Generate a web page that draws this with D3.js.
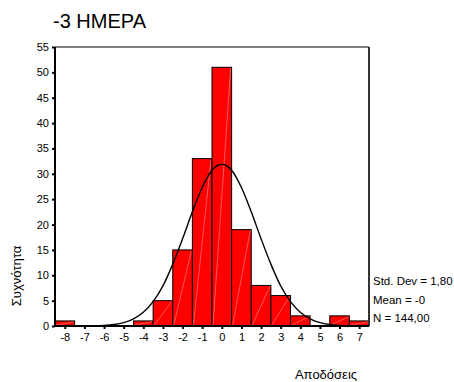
<!DOCTYPE html>
<html>
<head>
<meta charset="utf-8">
<script src="https://cdnjs.cloudflare.com/ajax/libs/d3/7.8.5/d3.min.js"></script>
<style>
  body { margin: 0; background: #fff; }
  text { font-family: "Liberation Sans", Arial, sans-serif; fill: #000; }
</style>
</head>
<body>
<svg id="chart" width="454" height="382"></svg>
<script>
// histogram bins (returns) and their frequencies
const bins = [-8, -7, -6, -5, -4, -3, -2, -1, 0, 1, 2, 3, 4, 5, 6, 7];
const counts = [1, 0, 0, 0, 1, 5, 15, 33, 51, 19, 8, 6, 2, 0, 2, 1];
const yTicks = [0, 5, 10, 15, 20, 25, 30, 35, 40, 45, 50, 55];

// normal curve
const curveX = [-8.5, -8, -7.5, -7, -6.5, -6, -5.5, -5, -4.5, -4, -3.5, -3, -2.5, -2, -1.5, -1, -0.5,
    0, 0.5, 1, 1.5, 2, 2.5, 3, 3.5, 4, 4.5, 5, 5.5, 6, 6.5, 7, 7.5];
const curveY = [0, 0, 0, 0.02, 0.05, 0.12, 0.3, 0.67, 1.4, 2.7, 4.8, 7.9, 12.2, 17.2, 22.5, 27.3, 30.7,
    31.9, 30.7, 27.3, 22.5, 17.2, 12.2, 7.9, 4.8, 2.7, 1.4, 0.67, 0.3, 0.12, 0.05, 0.02, 0];

const title = "-3 ΗΜΕΡΑ";
const xTitle = "Αποδόσεις";
const yTitle = "Συχνότητα";
const stats = ["Std. Dev = 1,80", "Mean = -0", "N = 144,00"];

const svg = d3.select("#chart");
const plotL = 55, plotR = 369, plotT = 47, plotB = 326;

const x = d3.scaleLinear().domain([-8.5, 7.5]).range([plotL, plotR]);
const y = d3.scaleLinear().domain([0, 55]).range([plotB, plotT]);

// bars
const bars = svg.append("g");
bins.forEach((b, i) => {
    if (counts[i] === 0) return;
    const x0 = x(b - 0.5), x1 = x(b + 0.5), y0 = y(counts[i]);
    bars.append("rect")
        .attr("x", x0).attr("y", y0)
        .attr("width", x1 - x0).attr("height", plotB - y0)
        .attr("fill", "#ff0000")
        .attr("stroke", "#000")
        .attr("stroke-width", 1);
    // faint diagonal seam inside each bar
    bars.append("line")
        .attr("x1", x0 + 1).attr("y1", plotB - 1)
        .attr("x2", x1 - 1).attr("y2", y0 + 1)
        .attr("stroke", "#ffb0b0")
        .attr("stroke-width", 0.5);
});

// normal curve
const pts = curveX.map((v, i) => [v, curveY[i]]);
const line = d3.line()
    .x(d => x(d[0]))
    .y(d => y(d[1]))
    .curve(d3.curveMonotoneX);

svg.append("path")
    .datum(pts)
    .attr("fill", "none")
    .attr("stroke", "#000")
    .attr("stroke-width", 1.4)
    .attr("d", line);

// frame
svg.append("line").attr("x1", plotL).attr("x2", plotR).attr("y1", plotT).attr("y2", plotT)
    .attr("stroke", "#000").attr("stroke-width", 1);
svg.append("line").attr("x1", plotR).attr("x2", plotR).attr("y1", plotT).attr("y2", plotB)
    .attr("stroke", "#333").attr("stroke-width", 2);

// axes
const yAxis = svg.append("g")
    .attr("transform", `translate(${plotL},0)`)
    .call(d3.axisLeft(y).tickValues(yTicks).tickSize(3).tickPadding(3));
const xAxis = svg.append("g")
    .attr("transform", `translate(0,${plotB})`)
    .call(d3.axisBottom(x).tickValues(bins).tickSize(3).tickPadding(4).tickFormat(d => String(d)));

[yAxis, xAxis].forEach(a => {
    a.select(".domain").attr("stroke", "#000").attr("stroke-width", 2);
    a.selectAll(".tick line").attr("stroke", "#000").attr("stroke-width", 2);
    a.selectAll("text").style("font-family", "Liberation Sans, Arial, sans-serif").style("font-size", "11px");
});
xAxis.select(".domain").attr("d", `M${plotL},0H${plotR}`);
yAxis.select(".domain").attr("d", `M0,${plotB + 1}V${plotT}`);

// titles
svg.append("text").attr("x", 53).attr("y", 28)
    .style("font-size", "20px").text(title);

svg.append("text").attr("x", 326).attr("y", 379)
    .attr("text-anchor", "middle")
    .style("font-size", "13px").text(xTitle);

svg.append("text")
    .attr("transform", "translate(21,276) rotate(-90)")
    .attr("text-anchor", "middle")
    .style("font-size", "13px").text(yTitle);

svg.selectAll(".stat")
    .data(stats)
    .enter().append("text")
    .attr("class", "stat")
    .attr("x", 373)
    .attr("y", (d, i) => 285 + i * 18.7)
    .style("font-size", "11.5px")
    .text(d => d);
</script>
</body>
</html>
